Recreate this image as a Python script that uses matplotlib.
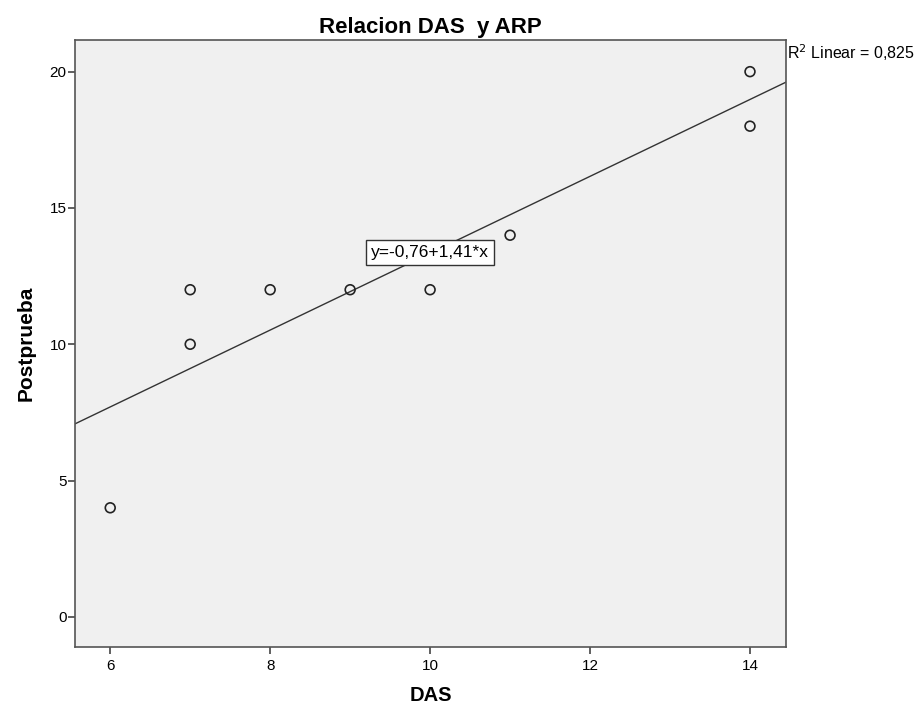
import matplotlib
matplotlib.use("Agg")
import matplotlib.pyplot as plt
import numpy as np

plt.rcParams['font.family'] = ['Liberation Sans', 'DejaVu Sans']

# datos
das = [6, 7, 7, 8, 9, 10, 11, 14, 14]
postprueba = [4, 10, 12, 12, 12, 12, 14, 18, 20]
b0 = -0.76
b1 = 1.41
r2 = "0,825"
xticks = [6, 8, 10, 12, 14]
yticks = [0, 5, 10, 15, 20]

fig = plt.figure(figsize=(9.15, 7.1), dpi=100)
ax = fig.add_axes([0.082, 0.089, 0.777, 0.855])
ax.set_facecolor('#F0F0F0')

xlim = (5.56, 14.45)
ylim = (-1.1, 21.17)
xs = np.array(xlim)
ax.plot(xs, b0 + b1 * xs, color='#333333', lw=1)
ax.scatter(das, postprueba, s=50, facecolors='none', edgecolors='#222222', linewidths=1.2, zorder=3)

ax.set_xlim(*xlim)
ax.set_ylim(*ylim)
ax.set_xticks(xticks)
ax.set_yticks(yticks)
ax.tick_params(direction='out', length=5, width=1.2, color='#444444', labelsize=11)
ax.tick_params(axis='y', pad=1)
ax.tick_params(axis='x', pad=4)
for sp in ax.spines.values():
    sp.set_color('#555555')
    sp.set_linewidth(1.2)

ax.set_title('Relacion DAS  y ARP', fontsize=16, fontweight='bold', pad=5)
ax.set_xlabel('DAS', fontsize=14.5, fontweight='bold', labelpad=9)
ax.set_ylabel('Postprueba', fontsize=15, fontweight='bold', labelpad=10)

ax.text(10.0, 13.36, 'y=-0,76+1,41*x', fontsize=12.5, ha='center', va='center',
        bbox=dict(boxstyle='square,pad=0.3', facecolor='white', edgecolor='#333333', lw=1))
ax.text(1.002, 0.995, r'R$^2$ Linear = ' + r2, transform=ax.transAxes, fontsize=11.5,
        ha='left', va='top')

fig.savefig('out.png', dpi=100)
